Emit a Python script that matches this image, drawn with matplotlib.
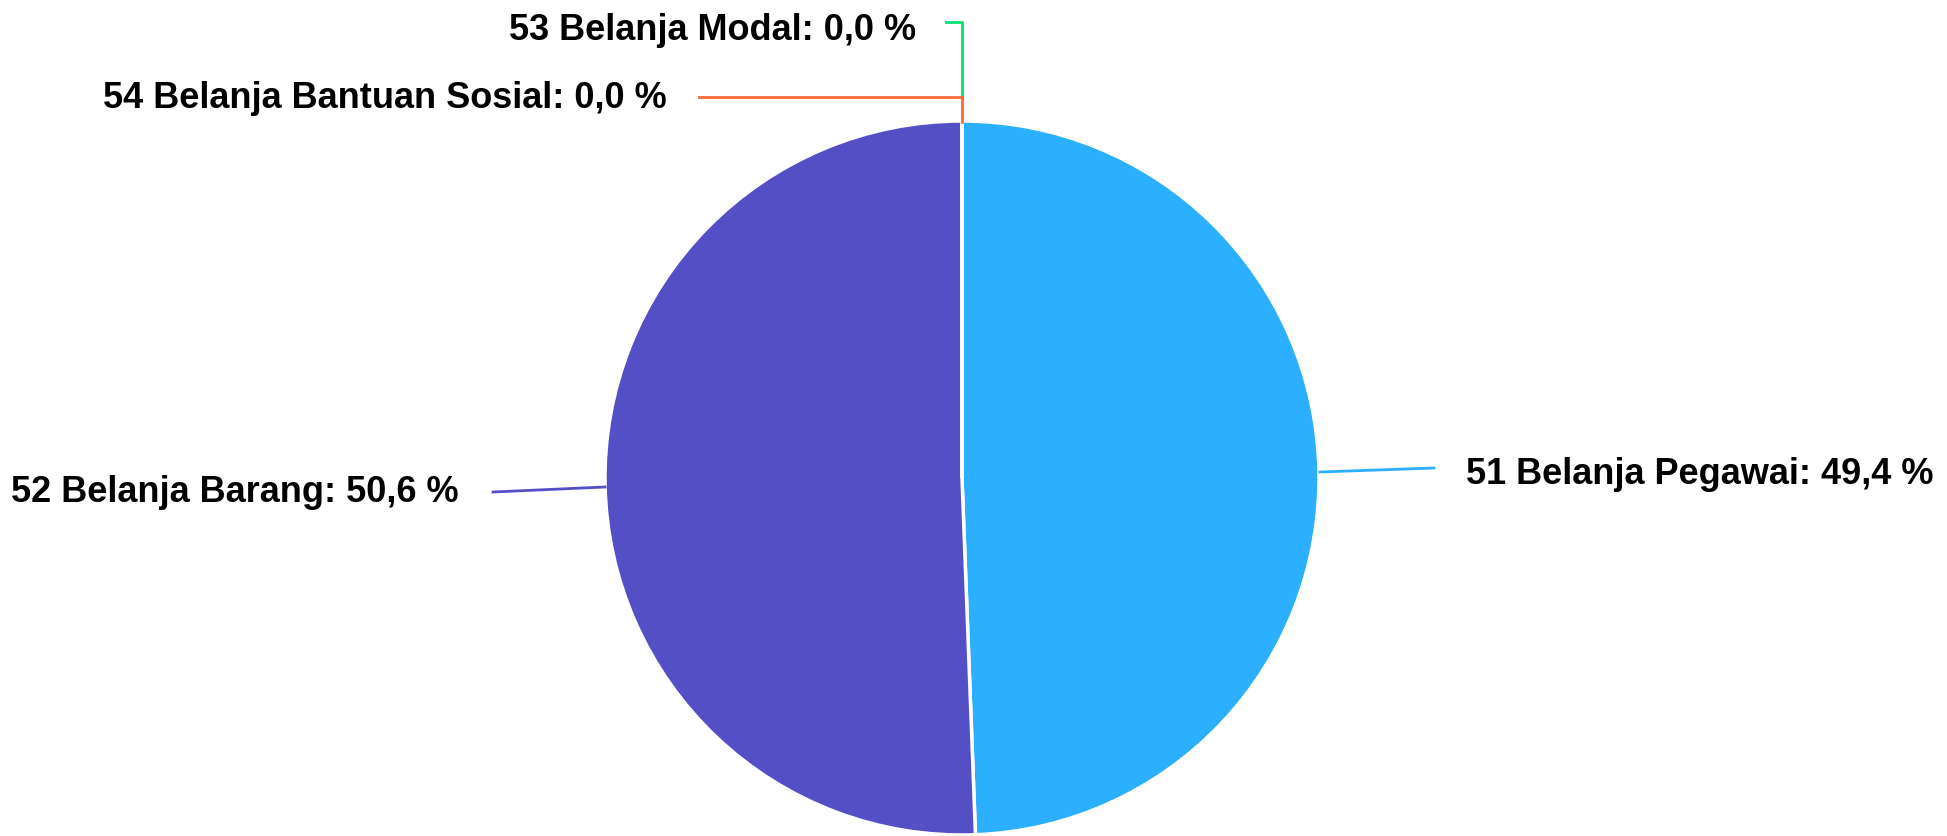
import matplotlib
matplotlib.use("Agg")
import matplotlib.pyplot as plt

categories = ["51 Belanja Pegawai", "52 Belanja Barang", "53 Belanja Modal", "54 Belanja Bantuan Sosial"]
values = [49.4, 50.6, 0.0, 0.0]
colors = ["#2caffe", "#544fc5", "#00e272", "#fe6a35"]

W, H = 1947, 836
fig = plt.figure(figsize=(W / 100, H / 100), dpi=100)
ax = fig.add_axes([0, 0, 1, 1])

cx, cy, r = 962, H - 478, 357
ax.pie(values, colors=colors, startangle=90, counterclock=False,
       center=(cx, cy), radius=r,
       wedgeprops=dict(edgecolor="white", linewidth=2.5))
ax.set_xlim(0, W)
ax.set_ylim(0, H)
ax.set_aspect("auto")
ax.axis("off")

total = sum(values)
def lbl(i):
    pct = values[i] / total * 100
    return f"{categories[i]}: {pct:.1f} %".replace(".", ",")

fs = 26
font = dict(fontsize=fs, fontweight="bold", family=["Liberation Sans", "DejaVu Sans"], color="#000000")

def Y(y):
    return H - y

# 51 Pegawai (right)
ax.plot([1320, 1434], [Y(472), Y(468)], color=colors[0], lw=2)
ax.text(1466, Y(474), lbl(0), ha="left", va="center", **font)
# 52 Barang (left)
ax.plot([493, 605], [Y(492), Y(487)], color=colors[1], lw=2)
ax.text(459, Y(493), lbl(1), ha="right", va="center", **font)
# 53 Modal (top)
ax.plot([946, 962, 962], [Y(22), Y(22), Y(99)], color=colors[2], lw=2)
ax.text(916, Y(30), lbl(2), ha="right", va="center", **font)
# 54 Bantuan Sosial
ax.plot([699, 962, 962], [Y(97), Y(97), Y(122)], color=colors[3], lw=2)
ax.text(667, Y(99), lbl(3), ha="right", va="center", **font)

fig.savefig("out.png", dpi=100, facecolor="white")
